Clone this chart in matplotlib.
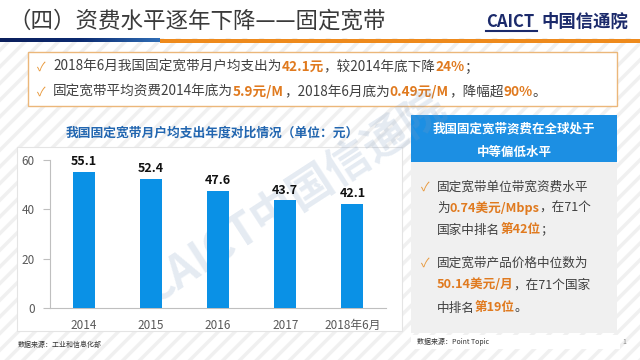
import matplotlib
matplotlib.use("Agg")
import matplotlib.pyplot as plt
from matplotlib.patches import Rectangle
from matplotlib.colors import LinearSegmentedColormap
import numpy as np

plt.rcParams['font.family'] = ['Noto Sans CJK SC', 'DejaVu Sans']
plt.rcParams['hatch.linewidth'] = 2.5

# ---- data ----
categories = ['2014', '2015', '2016', '2017', '2018年6月']
values = [55.1, 52.4, 47.6, 43.7, 42.1]
yticks = [0, 20, 40, 60]

slide_title = '（四）资费水平逐年下降——固定宽带'
chart_title = '我国固定宽带月户均支出年度对比情况（单位：元）'
panel_header = ['我国固定宽带资费在全球处于', '中等偏低水平']
source_left = '数据来源：工业和信息化部'
source_right = '数据来源：Point Topic'

GRAY = '#404040'
ORANGE = '#E07A1F'
CHECK = '#E8983A'
BAR = '#0A91E6'
HEAD = '#1C8FE3'

fig = plt.figure(figsize=(6.4, 3.6), dpi=100)
bg = fig.add_axes([0, 0, 1, 1])
bg.set_xlim(0, 640)
bg.set_ylim(360, 0)
bg.axis('off')

# striped background
bg.add_patch(Rectangle((0, 0), 640, 360, facecolor='white', edgecolor='#f0f0f0',
                       hatch='//', linewidth=0, zorder=0))
bg.add_patch(Rectangle((0, 0), 640, 38, facecolor='white', edgecolor='none', zorder=0.5))

renderer = fig.canvas.get_renderer()


def rich(x, y, parts, size):
    for s, color, weight in parts:
        t = bg.text(x, y, s, color=color, fontsize=size, fontweight=weight,
                    va='center', ha='left', zorder=5)
        bb = t.get_window_extent(renderer)
        x += bb.width


# title & logo
bg.text(8, 21, slide_title, fontsize=16.2, color='#3a3a3a', va='center', ha='left', zorder=5)
bg.text(486, 22, 'CAICT', fontsize=12, fontweight='bold', color='#1B2A6B',
        va='center', ha='left', zorder=5)
bg.plot([486, 537], [31, 31], color='#1B2A6B', lw=1.5, zorder=5)
bg.text(541, 22, '中国信通院', fontsize=12.5, fontweight='bold', color='#1B2A6B',
        va='center', ha='left', zorder=5)

# header rule: navy gradient then orange
grad = np.linspace(0, 1, 200).reshape(1, -1)
cmap = LinearSegmentedColormap.from_list('g', ['#0B1F5C', '#0B2A70', '#2F6DB5'])
bg.imshow(grad, extent=(0, 160, 42.5, 39), cmap=cmap, aspect='auto', zorder=3)
bg.add_patch(Rectangle((160, 39), 480, 3.5, facecolor='#EE8A1C', edgecolor='none', zorder=3))
bg.set_xlim(0, 640)
bg.set_ylim(360, 0)

# bullet box
bg.add_patch(Rectangle((28, 52), 589, 54, facecolor='white', edgecolor='#EBB77A',
                       linewidth=1, zorder=2))
bg.text(37, 67, '✓', color=CHECK, fontsize=9, va='center', ha='left', zorder=5)
bg.text(37, 92, '✓', color=CHECK, fontsize=9, va='center', ha='left', zorder=5)
BS = 9.8
rich(53, 67, [('2018年6月我国固定宽带月户均支出为', GRAY, 'normal'),
              ('42.1元', ORANGE, 'bold'),
              ('，较2014年底下降', GRAY, 'normal'),
              ('24%', ORANGE, 'bold'),
              ('；', GRAY, 'normal')], BS)
rich(53, 92, [('固定宽带平均资费2014年底为', GRAY, 'normal'),
              ('5.9元/M', ORANGE, 'bold'),
              ('，2018年6月底为', GRAY, 'normal'),
              ('0.49元/M', ORANGE, 'bold'),
              ('，降幅超', GRAY, 'normal'),
              ('90%', ORANGE, 'bold'),
              ('。', GRAY, 'normal')], BS)

# chart title and chart box
bg.text(212, 133, chart_title, fontsize=9.2, fontweight='bold', color='#2266B0',
        va='center', ha='center', zorder=5)
bg.add_patch(Rectangle((17, 147), 385, 184, facecolor='white', edgecolor='#e4e4e4',
                       linewidth=0.8, zorder=2))

# right panel
bg.add_patch(Rectangle((411, 115), 206, 47, facecolor=HEAD, edgecolor='none', zorder=2))
bg.add_patch(Rectangle((411, 162), 206, 171, facecolor='#F0F0F0', edgecolor='none', zorder=2))
bg.text(514, 129, panel_header[0], fontsize=9, fontweight='bold', color='white',
        va='center', ha='center', zorder=5)
bg.text(514, 152, panel_header[1], fontsize=9, fontweight='bold', color='white',
        va='center', ha='center', zorder=5)
bg.text(421, 187, '✓', color=CHECK, fontsize=9, va='center', ha='left', zorder=5)
bg.text(421, 263, '✓', color=CHECK, fontsize=9, va='center', ha='left', zorder=5)
PS = 9.1
rich(437, 187, [('固定宽带单位带宽资费水平', GRAY, 'normal')], PS)
rich(437, 208, [('为', GRAY, 'normal'), ('0.74美元/Mbps', ORANGE, 'bold'),
                ('，在71个', GRAY, 'normal')], PS)
rich(437, 230, [('国家中排名', GRAY, 'normal'), ('第42位', ORANGE, 'bold'),
                ('；', GRAY, 'normal')], PS)
rich(437, 263, [('固定宽带产品价格中位数为', GRAY, 'normal')], PS)
rich(437, 285, [('50.14美元/月', ORANGE, 'bold'), ('，在71个国家', GRAY, 'normal')], PS)
rich(437, 308, [('中排名', GRAY, 'normal'), ('第19位', ORANGE, 'bold'),
                ('。', GRAY, 'normal')], PS)

# bottom source lines
bg.add_patch(Rectangle((411, 335), 209, 14, facecolor='white', edgecolor='none', zorder=2))
bg.text(18, 345, source_left, fontsize=5, style='italic', color='#333333',
        va='center', ha='left', zorder=5)
bg.text(417, 342, source_right, fontsize=5, style='italic', color='#333333',
        va='center', ha='left', zorder=5)
bg.text(622, 342, '1', fontsize=5, color='#888888', va='center', ha='left', zorder=5)

# ---- bar chart ----
ax = fig.add_axes([50 / 640, 1 - 308 / 360, 336 / 640, 148 / 360])
ax.set_facecolor('none')
x = np.arange(len(categories))
ax.bar(x, values, width=0.33, color=BAR, zorder=3)
for xi, v in zip(x, values):
    ax.text(xi, v + 1.5, f'{v:.1f}', ha='center', va='bottom', fontsize=9,
            fontweight='bold', color='#111111', clip_on=False)
ax.set_xlim(-0.5, len(categories) - 0.5)
ax.set_ylim(0, 60)
ax.set_yticks(yticks)
ax.set_yticklabels([str(t) for t in yticks])
ax.set_xticks(x)
ax.set_xticklabels(categories)
ax.tick_params(axis='y', colors='#595959', labelsize=8.5, length=5, width=0.8,
               color='#bfbfbf', pad=6)
ax.tick_params(axis='x', colors='#595959', labelsize=8.5, length=0, pad=8)
for s in ['top', 'right']:
    ax.spines[s].set_visible(False)
ax.spines['left'].set_color('#bfbfbf')
ax.spines['bottom'].set_color('#bfbfbf')
ax.spines['left'].set_linewidth(0.8)
ax.spines['bottom'].set_linewidth(0.8)

# watermark
bg.text(295, 198, 'CAICT中国信通院', fontsize=32, fontweight='bold', color='#7f9cc0',
        alpha=0.2, rotation=33, ha='center', va='center', zorder=10)

fig.savefig('out.png', dpi=100)
